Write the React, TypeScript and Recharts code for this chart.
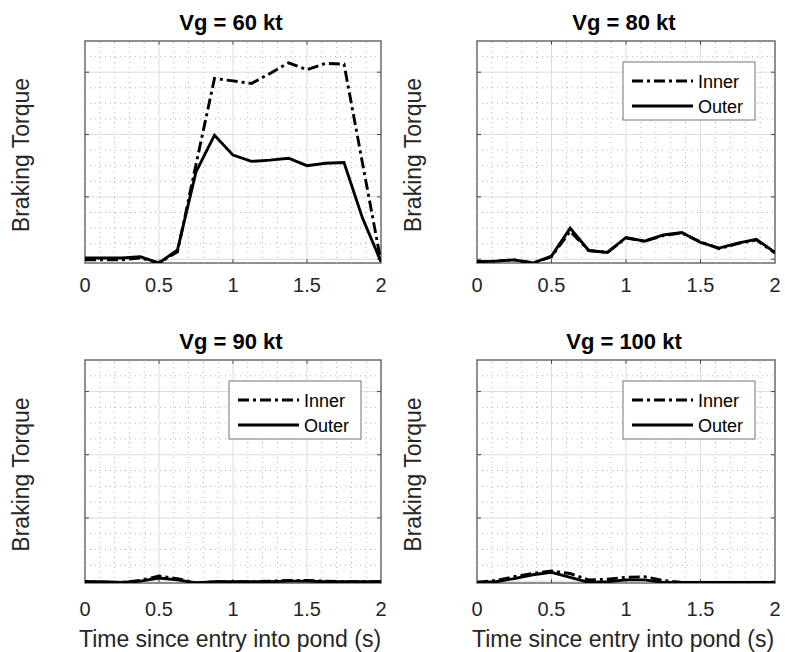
import React from "react"
import { LineChart, Line, XAxis, YAxis, ReferenceLine, ReferenceArea } from "recharts"

// sample times (s)
const TIME = [0, 0.125, 0.25, 0.375, 0.5, 0.625, 0.75, 0.875, 1, 1.125, 1.25, 1.375, 1.5, 1.625, 1.75, 1.875, 2]

// braking torque, arbitrary units (axis is unlabelled)
const INNER_60 = [-0.01, -0.01, -0.01, 0.02, -0.06, 0.12, 1.52, 2.9, 2.86, 2.82, 2.98, 3.15, 3.04, 3.14, 3.13, 1.54, -0.04]
const OUTER_60 = [0.02, 0.02, 0.02, 0.04, -0.06, 0.15, 1.4, 1.99, 1.67, 1.57, 1.59, 1.62, 1.5, 1.54, 1.55, 0.66, -0.04]

const INNER_80 = [-0.04, -0.03, -0.01, -0.06, 0.04, 0.45, 0.14, 0.11, 0.34, 0.29, 0.38, 0.42, 0.28, 0.17, 0.25, 0.31, 0.1]
const OUTER_80 = [-0.04, -0.03, -0.01, -0.06, 0.05, 0.5, 0.14, 0.11, 0.35, 0.29, 0.39, 0.43, 0.27, 0.18, 0.26, 0.32, 0.11]

const INNER_90 = [-0.01, -0.02, -0.02, 0.01, 0.08, 0.04, -0.03, -0.01, -0.01, -0.01, 0, 0.01, 0.01, 0, -0.01, -0.01, -0.01]
const OUTER_90 = [-0.01, -0.01, -0.02, 0, 0.05, 0.02, -0.03, -0.01, -0.01, -0.01, -0.01, 0, 0, -0.01, -0.01, -0.01, -0.01]

const INNER_100 = [-0.02, 0.01, 0.07, 0.12, 0.16, 0.12, 0.02, 0.03, 0.06, 0.07, 0.01, -0.02, -0.02, -0.02, -0.02, -0.02, -0.02]
const OUTER_100 = [-0.02, -0.01, 0.04, 0.1, 0.14, 0.06, -0.02, -0.01, 0.02, 0.02, -0.02, -0.02, -0.02, -0.02, -0.02, -0.02, -0.02]

const X_TICKS = [0, 0.5, 1, 1.5, 2]
const X_MINOR = [0.1, 0.2, 0.3, 0.4, 0.6, 0.7, 0.8, 0.9, 1.1, 1.2, 1.3, 1.4, 1.6, 1.7, 1.8, 1.9]
const Y_MAJOR = [0, 1, 2, 3]
const Y_MINOR = [0.25, 0.5, 0.75, 1.25, 1.5, 1.75, 2.25, 2.5, 2.75, 3.25]
const Y_MAX = 3.5

const FONT = "'Liberation Sans', Arial, Helvetica, sans-serif"
const TEXT = "#262626"
const DASH_DOT = "11 4 3 4"
const LW = 2.9

const PANELS = [
  { title: "Vg = 60 kt", inner: INNER_60, outer: OUTER_60, x: 0, y: 0, w: 392, h: 326, pl: 85, pt: 41, pw: 296, ph: 222, yMin: -0.06, tm: 15, legend: false, xlabel: false },
  { title: "Vg = 80 kt", inner: INNER_80, outer: OUTER_80, x: 392, y: 0, w: 393, h: 326, pl: 85, pt: 41, pw: 298, ph: 222, yMin: -0.06, tm: 15, legend: true, xlabel: false },
  { title: "Vg = 90 kt", inner: INNER_90, outer: OUTER_90, x: 0, y: 326, w: 392, h: 326, pl: 85, pt: 34, pw: 296, ph: 223, yMin: -0.03, tm: 19, legend: true, xlabel: true },
  { title: "Vg = 100 kt", inner: INNER_100, outer: OUTER_100, x: 392, y: 326, w: 393, h: 326, pl: 85, pt: 34, pw: 298, ph: 223, yMin: -0.03, tm: 19, legend: true, xlabel: true },
]

function Panel({ p }: { p: (typeof PANELS)[number] }) {
  const data = TIME.map((t, i) => ({ t, inner: p.inner[i], outer: p.outer[i] }))
  const tickY = 0.06
  const tickX = 0.027
  return (
    <div style={{ position: "absolute", left: p.x, top: p.y, width: p.w, height: p.h }}>
      <LineChart
        width={p.w}
        height={p.h}
        data={data}
        margin={{ top: p.pt, left: p.pl, right: p.w - p.pl - p.pw, bottom: 0 }}
      >
        <XAxis
          dataKey="t"
          type="number"
          domain={[0, 2]}
          ticks={X_TICKS}
          interval={0}
          allowDataOverflow
          axisLine={false}
          tickLine={false}
          tickSize={0}
          tickMargin={p.tm}
          height={p.h - p.pt - p.ph}
          tick={{ fontSize: 20, fill: TEXT, fontFamily: FONT }}
        />
        <YAxis hide type="number" domain={[p.yMin, Y_MAX]} allowDataOverflow />
        {X_MINOR.map((v) => (
          <ReferenceLine key={"xm" + v} x={v} stroke="#b4b4b4" strokeDasharray="1 4" />
        ))}
        {Y_MINOR.map((v) => (
          <ReferenceLine key={"ym" + v} y={v} stroke="#b4b4b4" strokeDasharray="1 4" />
        ))}
        {X_TICKS.slice(1, -1).map((v) => (
          <ReferenceLine key={"xg" + v} x={v} stroke="#dcdcdc" />
        ))}
        {Y_MAJOR.map((v) => (
          <ReferenceLine key={"yg" + v} y={v} stroke="#dcdcdc" />
        ))}
        {X_TICKS.slice(1, -1).map((v) => (
          <ReferenceLine key={"xtb" + v} segment={[{ x: v, y: p.yMin }, { x: v, y: p.yMin + tickY }]} stroke="#444" />
        ))}
        {X_TICKS.slice(1, -1).map((v) => (
          <ReferenceLine key={"xtt" + v} segment={[{ x: v, y: Y_MAX }, { x: v, y: Y_MAX - tickY }]} stroke="#444" />
        ))}
        {Y_MAJOR.map((v) => (
          <ReferenceLine key={"ytl" + v} segment={[{ x: 0, y: v }, { x: tickX, y: v }]} stroke="#444" />
        ))}
        {Y_MAJOR.map((v) => (
          <ReferenceLine key={"ytr" + v} segment={[{ x: 2 - tickX, y: v }, { x: 2, y: v }]} stroke="#444" />
        ))}
        <ReferenceArea x1={0} x2={2} y1={p.yMin} y2={Y_MAX} fill="none" fillOpacity={0} stroke="#6a6a6a" strokeWidth={1.5} />
        <Line type="linear" dataKey="inner" stroke="#000" strokeWidth={LW} strokeDasharray={DASH_DOT} dot={false} isAnimationActive={false} />
        <Line type="linear" dataKey="outer" stroke="#000" strokeWidth={LW} dot={false} isAnimationActive={false} />
      </LineChart>
    </div>
  )
}

function Overlay() {
  return (
    <svg width={785} height={652} style={{ position: "absolute", left: 0, top: 0, pointerEvents: "none" }}>
      {PANELS.map((p) => {
        const cx = p.x + p.pl + p.pw / 2
        const cy = p.y + p.pt + p.ph / 2
        const lx = p.x + p.pl + p.pw - 20 - 132
        const ly = p.y + p.pt + 21
        return (
          <g key={p.title} fontFamily={FONT}>
            <text x={cx - 2} y={p.y + p.pt - 11} textAnchor="middle" fontSize={22} fontWeight="bold" fill="#000">
              {p.title}
            </text>
            <text transform={`translate(${p.x + 29},${cy + 3}) rotate(-90)`} textAnchor="middle" fontSize={23} fill={TEXT}>
              Braking Torque
            </text>
            {p.xlabel && (
              <text x={cx - 3} y={646.5} textAnchor="middle" fontSize={23} fill={TEXT}>
                Time since entry into pond (s)
              </text>
            )}
            {p.legend && (
              <g>
                <rect x={lx} y={ly} width={132} height={58} fill="#fff" stroke="#8a8a8a" strokeWidth={1.2} />
                <line x1={lx + 9} x2={lx + 70} y1={ly + 19} y2={ly + 19} stroke="#000" strokeWidth={LW} strokeDasharray={DASH_DOT} />
                <line x1={lx + 9} x2={lx + 70} y1={ly + 44} y2={ly + 44} stroke="#000" strokeWidth={LW} />
                <text x={lx + 75} y={ly + 25.5} fontSize={18} fill="#000">Inner</text>
                <text x={lx + 75} y={ly + 50.5} fontSize={18} fill="#000">Outer</text>
              </g>
            )}
          </g>
        )
      })}
    </svg>
  )
}

export default function App() {
  return (
    <div style={{ position: "absolute", left: 0, top: 0, width: 785, height: 652, background: "#fff" }}>
      {PANELS.map((p) => (
        <Panel key={p.title} p={p} />
      ))}
      <Overlay />
    </div>
  )
}
